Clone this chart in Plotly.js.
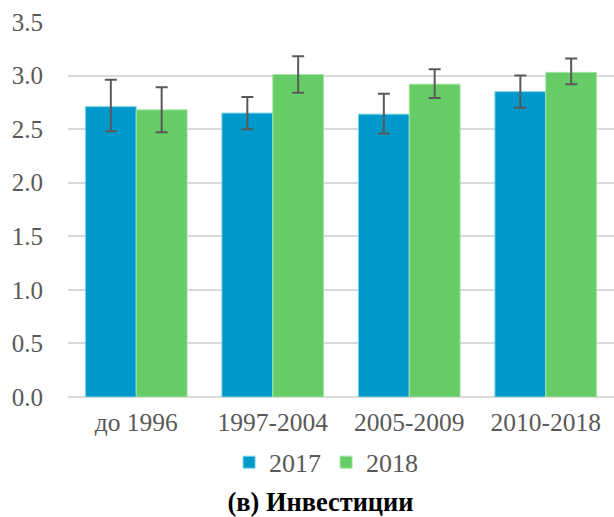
<!DOCTYPE html>
<html><head><meta charset="utf-8">
<script src="https://cdn.plot.ly/plotly-3.0.1.min.js"></script>
<style>body{margin:0}#c{width:614px;height:517px}</style>
</head><body><div id="c"></div>
<script>
var categories = ['до 1996', '1997-2004', '2005-2009', '2010-2018'];
var v2017 = [2.71, 2.65, 2.64, 2.85];
var e2017Plus = [0.25, 0.15, 0.19, 0.15];
var e2017Minus = [0.23, 0.15, 0.18, 0.15];
var v2018 = [2.68, 3.01, 2.92, 3.03];
var e2018Plus = [0.21, 0.17, 0.14, 0.13];
var e2018Minus = [0.21, 0.17, 0.13, 0.11];
var yTicks = [0, 0.5, 1, 1.5, 2, 2.5, 3, 3.5];
var yTickText = ['0.0', '0.5', '1.0', '1.5', '2.0', '2.5', '3.0', '3.5'];

function mkFont(size, color) { return {family: 'Liberation Serif', size: size, color: color}; }
function errStyle(plus, minus) {
  return {type: 'data', symmetric: false, array: plus, arrayminus: minus, color: '#595959', thickness: 2, width: 6};
}
var data = [
  {type: 'bar', name: '2017', x: categories, y: v2017, marker: {color: '#0099CC', line: {color: '#7FD3EA', width: 1}},
   error_y: errStyle(e2017Plus, e2017Minus)},
  {type: 'bar', name: '2018', x: categories, y: v2018, marker: {color: '#66CC66', line: {color: '#A6E4A6', width: 1}},
   error_y: errStyle(e2018Plus, e2018Minus)}
];
var layout = {
  width: 614, height: 517,
  margin: {l: 68, r: 0, t: 22, b: 120},
  barmode: 'group', bargap: 0.255, bargroupgap: 0,
  paper_bgcolor: '#fff', plot_bgcolor: '#fff',
  font: mkFont(25.5, '#595959'),
  xaxis: {tickfont: mkFont(25.5, '#595959'), showgrid: false, showline: false, ticks: '', ticklabelstandoff: 7},
  yaxis: {range: [0, 3.5], tickvals: yTicks, ticktext: yTickText, tickfont: mkFont(25, '#595959'),
          gridcolor: '#D9D9D9', gridwidth: 1.5, zeroline: true, zerolinecolor: '#D9D9D9', zerolinewidth: 1.5,
          showline: false, ticks: '', ticklabelstandoff: 24},
  showlegend: true,
  legend: {orientation: 'h', x: 0.295, xanchor: 'left', y: -0.174, yanchor: 'middle', font: mkFont(26, '#595959'),
           itemwidth: 30, traceorder: 'normal'},
  title: {text: '<b>(в) Инвестиции</b>', x: 0.522, xref: 'container', xanchor: 'center', y: 0.029, yref: 'container', yanchor: 'middle',
          font: mkFont(26.4, '#000')}
};
Plotly.newPlot('c', data, layout, {displayModeBar: false});
</script></body></html>
